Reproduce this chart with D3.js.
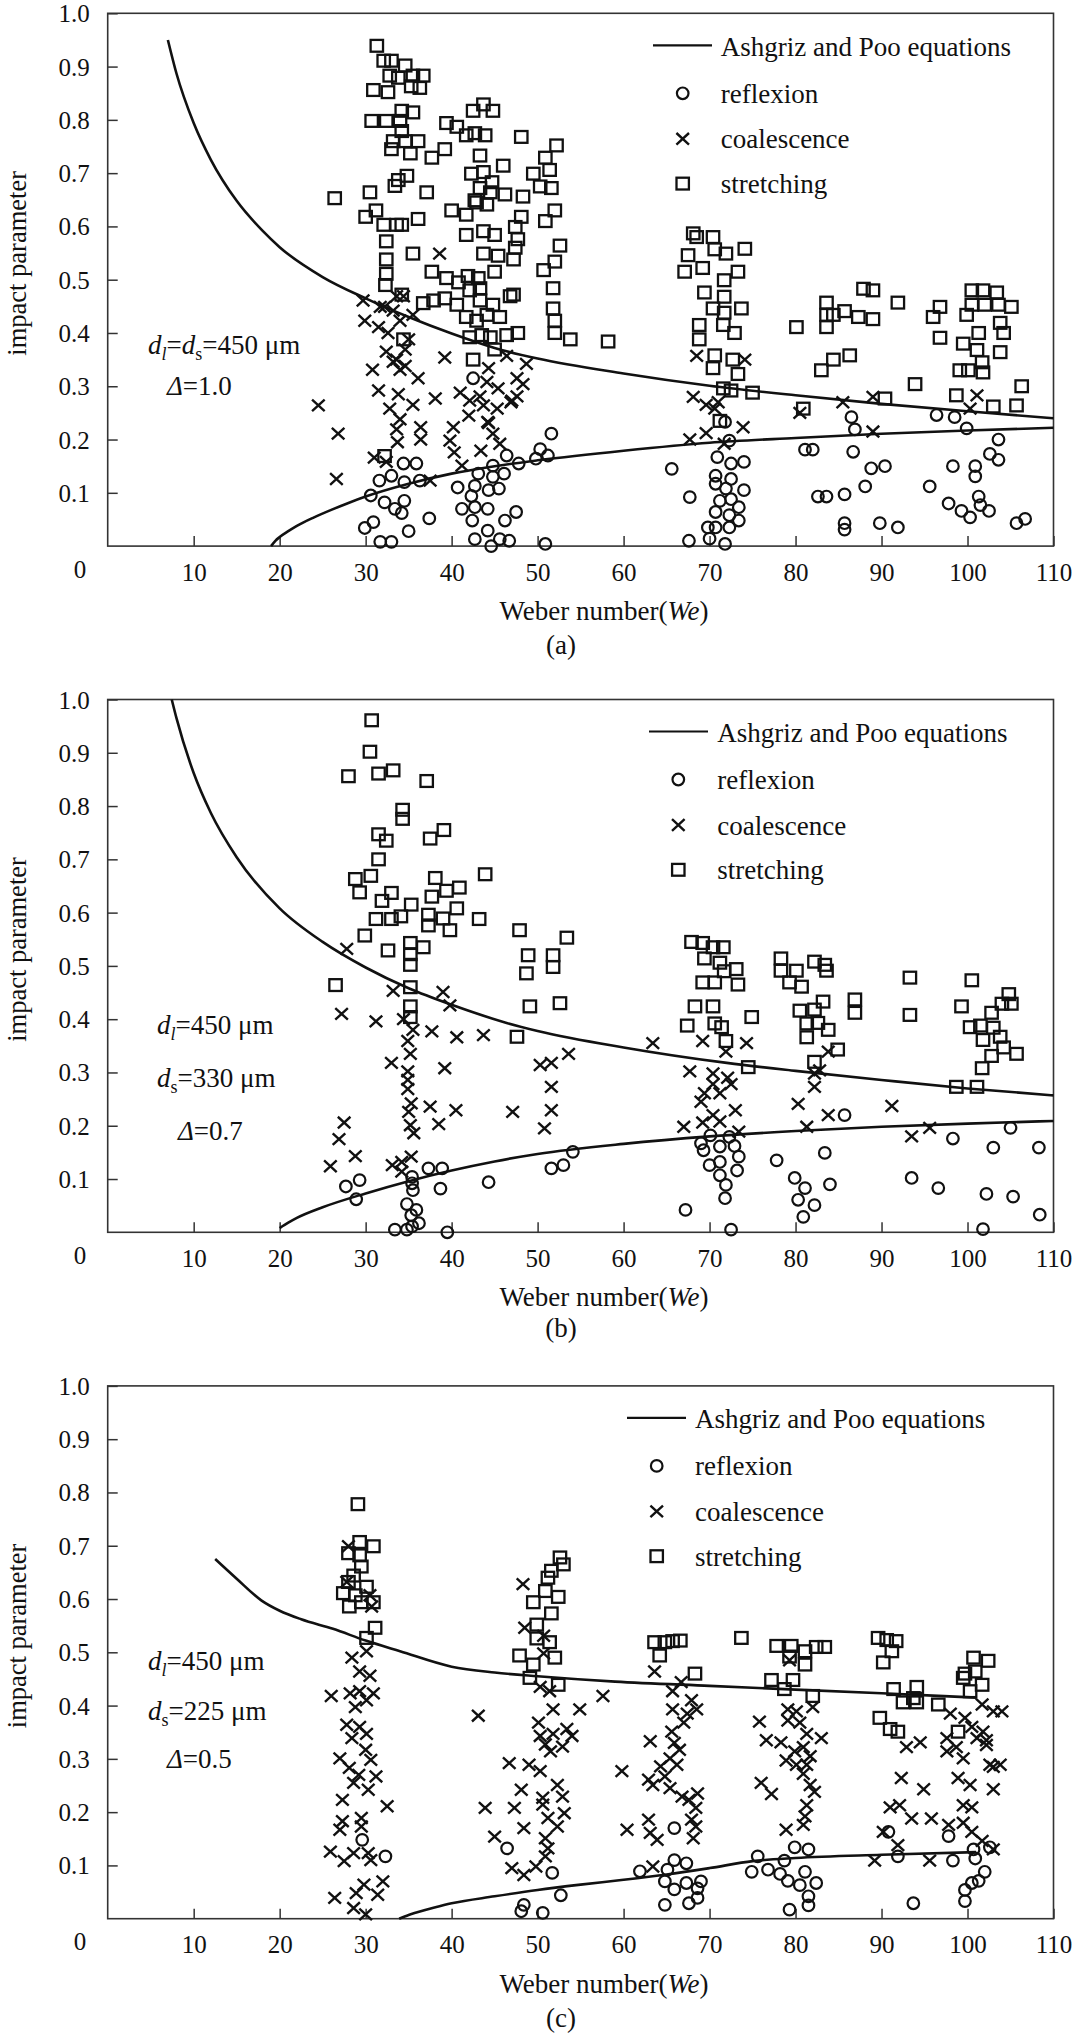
<!DOCTYPE html>
<html><head><meta charset="utf-8">
<script src="https://cdn.jsdelivr.net/npm/d3@7"></script>
<style>
body{margin:0;background:#fff}
svg{display:block}
text{font-family:"Liberation Serif","Times New Roman",serif;fill:#111}
</style></head>
<body><svg id="chart" width="1080" height="2038"></svg>
<script>
// ---------- tick values & labels ----------
const xTickValues = [10,20,30,40,50,60,70,80,90,100,110];
const yTickValues = [0.1,0.2,0.3,0.4,0.5,0.6,0.7,0.8,0.9,1.0];
const legendLabels = ["Ashgriz and Poo equations","reflexion","coalescence","stretching"];
const captions = ["(a)","(b)","(c)"];

// ---------- panel (a) ----------
const upperA = [[7,0.95],[8,0.887],[10,0.794],[12,0.725],[15,0.648],[18,0.592],[20,0.561],[25,0.505],[30,0.465],[35,0.43],[40,0.399],[45,0.372],[50,0.352],[60,0.324],[70,0.301],[80,0.283],[90,0.267],[100,0.253],[110,0.24]];
const lowerA = [[19,0],[19.5,0.01],[20,0.017],[21,0.028],[22,0.038],[24,0.054],[26,0.068],[28,0.081],[30,0.093],[35,0.117],[40,0.136],[45,0.15],[50,0.161],[60,0.179],[70,0.194],[80,0.203],[90,0.211],[100,0.217],[110,0.222]];
const reflexionA = [[31.6,.123],[33.0,.132],[34.4,.155],[35.9,.155],[34.5,.12],[36.3,.123],[30.6,.095],[32.2,.082],[33.4,.07],[34.5,.085],[34.2,.062],[30.9,.045],[29.9,.034],[35.0,.028],[37.4,.052],[31.7,.008],[33.0,.008],
[40.7,.11],[42.3,.094],[42.7,.113],[41.2,.07],[42.7,.073],[42.4,.048],[44.2,.07],[44.2,.029],[42.7,.013],[44.6,.0],[45.6,.013],[46.7,.01],[46.2,.048],[47.5,.064],[44.3,.105],[45.5,.108],[43.1,.136],[44.8,.13],[46.1,.136],[44.8,.151],[46.4,.17],[47.8,.155],[49.8,.164],[50.3,.182],[51.2,.17],[51.6,.211],[50.9,.004],[42.5,.315],
[65.6,.145],[67.7,.092],[67.6,.01],[71.8,.233],[72.3,.198],[70.9,.167],[72.5,.155],[74.0,.158],[70.7,.132],[72.5,.126],[70.7,.117],[71.9,.108],[74.0,.105],[71.2,.085],[72.5,.088],[73.4,.073],[70.7,.064],[72.3,.058],[69.8,.035],[70.7,.035],[72.3,.035],[70.0,.014],[71.8,.004],[73.4,.048],
[86.5,.242],[86.9,.219],[96.4,.246],[98.5,.242],[99.9,.221],[81.1,.181],[82.0,.181],[86.7,.177],[88.8,.146],[90.4,.15],[103.6,.20],[102.6,.173],[103.6,.162],[98.3,.15],[100.9,.15],[100.9,.131],[88.1,.112],[95.6,.112],[82.6,.093],[83.6,.093],[85.7,.097],[97.8,.08],[99.3,.066],[100.3,.054],[101.3,.093],[101.5,.077],[102.5,.066],[85.7,.043],[85.7,.031],[89.8,.043],[91.9,.035],[105.7,.043],[106.7,.051]];
const coalescenceA = [[24.5,.264],[26.8,.211],[26.6,.126],[31.0,.166],[32.4,.158],[29.7,.461],[31.7,.449],[29.9,.423],[31.5,.411],[32.6,.40],[30.8,.331],[33.2,.346],[31.5,.292],[32.8,.258],[33.6,.219],[33.7,.195],
[33.6,.469],[34.4,.469],[32.2,.449],[33.2,.442],[35.5,.434],[34.0,.423],[35.0,.388],[34.6,.369],[32.4,.365],[33.6,.35],[34.6,.338],[34.0,.331],[36.1,.315],[38.6,.549],[39.2,.354],[38.1,.277],[33.8,.285],[35.5,.265],[34.0,.238],[36.4,.223],[36.4,.20],[37.5,.123],
[39.8,.198],[40.2,.223],[40.3,.176],[41.2,.151],[42.0,.245],[43.4,.179],[44.2,.233],[44.8,.211],[45.6,.192],[43.7,.264],[45.3,.258],[46.9,.27],
[41.0,.288],[42.1,.273],[43.3,.281],[44.3,.334],[44.1,.308],[46.4,.357],[47.6,.315],[48.7,.342],[48.3,.304],[47.0,.273],[47.6,.281],[45.4,.296],[44.3,.231],
[68.5,.357],[74.1,.35],[69.6,.265],[71.0,.27],[70.6,.258],[68.1,.28],[67.7,.20],[69.6,.212],[73.9,.223],[71.7,.192],
[80.5,.25],[85.5,.27],[89.0,.28],[89.0,.215],[101.1,.283],[100.3,.258]];
const stretchingA = [[31.3,.939],[32.1,.911],[33.0,.911],[34.6,.902],[32.8,.883],[33.8,.879],[35.5,.883],[36.7,.883],[30.9,.856],[32.6,.852],[35.3,.863],[36.3,.86],[34.2,.817],[35.5,.814],[30.7,.798],[32.4,.798],[34.0,.798],[34.2,.779],[33.0,.745],[33.2,.76],[34.6,.76],[36.1,.76],[37.7,.729],[39.2,.745],[35.2,.737],[39.4,.794],[40.6,.787],[41.7,.771],[42.7,.775],[43.9,.771],[42.5,.817],[43.7,.829],[44.8,.817],[48.1,.768],[43.3,.733],[33.4,.676],[26.4,.653],[30.5,.664],[33.8,.687],[34.8,.695],[37.1,.664],[42.3,.699],[43.7,.702],[44.7,.683],[46.0,.714],[43.3,.672],[44.5,.664],[49.5,.699],[50.9,.729],[52.2,.752],[51.4,.706],[51.6,.672],[42.7,.649],[44.1,.641],[46.2,.66],[48.3,.656],[50.3,.675],[30.0,.618],[31.2,.630],[32.1,.603],[33.6,.603],[34.2,.603],[36.1,.614],[40.0,.63],[41.7,.622],[42.9,.645],[43.7,.591],[45.0,.584],[47.4,.599],[48.1,.618],[50.9,.61],[52.0,.63],[41.7,.584],[47.7,.576],[32.4,.572],[32.4,.538],[35.5,.549],[43.7,.549],[45.4,.545],[47.4,.56],[47.2,.538],[52.6,.564],[52.0,.534],[50.7,.518],[37.7,.515],[39.4,.503],[40.8,.495],[41.9,.507],[43.1,.503],[45.0,.515],[42.1,.48],[43.3,.484],[36.7,.456],[37.9,.461],[39.2,.465],[40.6,.453],[47.2,.472],[51.8,.484],[51.8,.446],[52.0,.423],[53.8,.388],[58.2,.384],[52.0,.40],[32.3,.49],[32.4,.511],[34.2,.472],[41.7,.43],[42.9,.423],[44.1,.434],[45.6,.43],[42.1,.392],[43.5,.396],[44.5,.392],[46.4,.396],[47.7,.40],[43.3,.461],[44.8,.453],[34.4,.388],[42.5,.35],[45.0,.369],[46.8,.469],[32.2,.169],
[68.1,.587],[68.5,.58],[67.5,.546],[67.1,.515],[70.4,.58],[70.6,.557],[71.9,.549],[74.1,.558],[69.2,.522],[71.7,.499],[73.3,.515],[69.4,.476],[71.7,.468],[70.4,.446],[71.7,.438],[73.7,.446],[68.8,.415],[71.6,.415],[72.9,.40],[68.8,.388],[70.6,.358],[72.7,.35],[70.4,.334],[73.3,.323],[71.6,.296],[72.5,.292],[75.0,.288],[71.2,.235],
[80.1,.411],[83.6,.457],[83.6,.434],[83.6,.411],[84.4,.434],[85.7,.441],[87.3,.43],[89.0,.426],[87.9,.483],[89.0,.48],[91.9,.457],[83.0,.33],[84.4,.35],[86.3,.358],[93.9,.304],[80.9,.258],[90.4,.277],[96.0,.43],[96.8,.449],[96.8,.391],[99.9,.434],[100.5,.453],[100.5,.48],[101.8,.48],[103.4,.476],[102.0,.453],[103.6,.453],[105.1,.449],[103.8,.419],[99.5,.38],[101.3,.40],[104.2,.40],[101.1,.368],[103.8,.364],[99.1,.33],[100.1,.33],[101.7,.345],[101.8,.326],[98.7,.283],[103.0,.262],[105.7,.264],[106.3,.30]];

// ---------- panel (b) ----------
const upperB = [[7.45,1.0],[8,0.965],[10,0.862],[12,0.787],[15,0.704],[20,0.608],[25,0.545],[30,0.497],[35,0.458],[40,0.427],[46.4,0.393],[50,0.378],[60,0.347],[72,0.318],[80,0.303],[90,0.286],[100,0.27],[110,0.257]];
const lowerB = [[20,0.008],[21,0.018],[22,0.027],[25,0.047],[30,0.073],[35,0.096],[40,0.116],[45,0.133],[50,0.147],[60,0.166],[70,0.18],[80,0.19],[90,0.198],[100,0.204],[110,0.209]];
const reflexionB = [[27.7,.086],[29.3,.098],[28.9,.062],[33.4,.005],[34.8,.005],[35.4,.011],[36.2,.017],[34.8,.053],[35.3,.032],[35.9,.042],[35.4,.104],[35.4,.092],[35.5,.079],[37.3,.12],[38.9,.12],[38.7,.082],[39.5,.0],[44.3,.094],[51.6,.12],[53.0,.126],[54.1,.151],[67.2,.042],[69.0,.167],[69.3,.154],[70.1,.182],[70.0,.126],[71.2,.161],[71.2,.132],[71.2,.107],[71.9,.089],[71.8,.064],[72.5,.005],[72.9,.162],[73.4,.142],[73.2,.116],[72.3,.179],
[85.7,.22],[77.8,.135],[79.9,.102],[81.1,.083],[80.3,.061],[82.2,.051],[80.9,.029],[83.4,.149],[84.0,.09],[93.5,.102],[96.6,.083],[98.3,.176],[103.0,.159],[105.0,.196],[108.3,.159],[102.2,.072],[105.3,.067],[101.8,.006],[108.4,.033]];
const coalescenceB = [[25.9,.124],[26.9,.175],[27.5,.206],[28.8,.143],[33.1,.126],[34.2,.132],[34.2,.114],[35.3,.142],[35.0,.226],[35.3,.242],[35.2,.201],[35.6,.186],[37.5,.236],[38.5,.203],[40.5,.229],[47.1,.226],[50.8,.195],[51.6,.229],[67.0,.198],[69.2,.206],[70.4,.22],[71.2,.208],[73.0,.229],[69.0,.245],[73.4,.189],
[27.8,.532],[33.2,.453],[27.2,.41],[31.2,.396],[33.0,.318],[39.0,.451],[39.8,.426],[34.4,.40],[35.5,.38],[37.7,.377],[40.6,.366],[43.7,.37],[34.9,.359],[35.2,.335],[34.9,.302],[34.9,.286],[34.9,.269],[39.2,.308],[50.3,.314],[51.6,.318],[53.6,.335],[51.6,.273],[63.4,.355],[67.7,.302],
[69.2,.359],[71.9,.339],[74.3,.355],[70.4,.298],[72.1,.29],[70.4,.278],[69.4,.261],[71.2,.261],[72.5,.278],[83.8,.339],[82.8,.304],[82.2,.298],[82.2,.273],[80.3,.241],[83.8,.22],[81.3,.198],[91.2,.237],[93.5,.18],[95.6,.196]];
const stretchingB = [[30.7,.961],[30.5,.902],[28.0,.856],[31.5,.861],[31.5,.747],[31.5,.70],[28.8,.663],[29.3,.638],[30.6,.669],[31.2,.588],[29.9,.557],[26.5,.464],
[33.2,.867],[37.1,.847],[34.3,.793],[34.3,.776],[32.4,.735],[37.5,.739],[39.1,.755],[43.9,.672],[38.1,.665],[39.4,.641],[40.9,.647],[33.0,.637],[35.3,.615],[37.7,.63],[40.6,.608],[31.9,.622],[34.1,.593],[33.0,.588],[37.3,.596],[39.0,.589],[37.3,.576],[39.8,.567],[43.2,.588],[47.9,.567],[53.4,.553],[35.2,.543],[35.2,.522],[36.7,.535],[32.6,.529],[35.2,.502],[48.9,.52],[48.7,.486],[51.8,.52],[51.8,.498],[35.2,.46],[35.2,.424],[35.2,.404],[49.1,.424],[52.6,.43],[47.6,.367],[67.9,.545],[68.3,.424],[67.4,.388],
[69.2,.543],[70.4,.535],[71.6,.535],[69.4,.514],[71.2,.506],[73.1,.494],[69.2,.469],[70.6,.469],[71.7,.49],[73.3,.465],[70.4,.424],[70.6,.392],[71.4,.385],[71.9,.359],[74.9,.404],[74.5,.31],[78.3,.514],[78.3,.491],[80.1,.491],[79.3,.469],[80.7,.461],[82.2,.508],[83.6,.491],[83.4,.502],[80.5,.416],[82.2,.418],[83.2,.433],[81.3,.392],[82.6,.393],[83.8,.38],[81.3,.366],[86.9,.437],[86.9,.412],[84.9,.343],[82.2,.32],[93.3,.478],[93.3,.408],[100.5,.473],[99.3,.424],[100.3,.385],[101.5,.388],[102.8,.412],[103.0,.384],[104.8,.447],[105.1,.429],[104.0,.429],[101.8,.361],[103.8,.367],[104.2,.347],[102.8,.331],[105.7,.335],[101.7,.308],[98.7,.273],[101.1,.273]];

// ---------- panel (c) ----------
const upperC = [[12.5,0.675],[15,0.638],[17.9,0.597],[20,0.578],[22.5,0.562],[26.2,0.544],[30,0.522],[34,0.502],[40,0.473],[45,0.462],[50,0.455],[59,0.445],[70,0.437],[80,0.43],[90,0.423],[101,0.415]];
const lowerC = [[33.9,0],[35,0.007],[36,0.012],[38,0.021],[40,0.029],[45,0.042],[50,0.054],[55,0.064],[60,0.073],[65,0.083],[70,0.095],[75,0.108],[80,0.114],[90,0.12],[101,0.125]];
const reflexionC = [[29.6,.148],[32.3,.117],[46.45,.132],[51.7,.086],[48.4,.026],[48.1,.014],[50.6,.011],[52.7,.044],[61.9,.089],[65.1,.092],[65.9,.11],[67.3,.104],[64.8,.07],[65.9,.055],[67.3,.067],[64.8,.026],[67.6,.029],[69.0,.07],[68.6,.057],[68.6,.039],[65.9,.17],
[75.6,.117],[74.9,.088],[76.8,.092],[78.2,.084],[78.7,.109],[79.1,.071],[80.5,.063],[79.9,.134],[81.5,.13],[81.1,.088],[82.4,.067],[81.5,.042],[81.5,.025],[79.3,.017],[90.8,.163],[91.9,.117],[93.7,.029],[97.8,.155],[98.3,.109],[100.7,.13],[100.9,.113],[102.6,.134],[102.0,.088],[101.3,.071],[100.5,.067],[99.7,.054],[99.7,.033]];
const coalescenceC = [[28.0,.699],[27.8,.632],[30.5,.607],[30.7,.586],[30.1,.502],[28.4,.49],[29.3,.464],[30.5,.456],[26.0,.418],[28.2,.423],[29.3,.427],[30.9,.423],[28.8,.397],[30.1,.41],[27.8,.364],[29.3,.36],[30.1,.347],[28.4,.339],
[27.0,.301],[28.1,.283],[30.0,.317],[30.6,.298],[29.2,.27],[31.2,.267],[28.6,.255],[30.3,.242],[27.3,.223],[32.5,.211],[29.5,.189],[27.3,.183],[27.0,.167],[29.5,.173],[25.9,.126],[28.6,.123],[27.5,.108],[30.3,.123],[30.6,.11],[32.0,.07],[29.8,.064],[28.9,.048],[26.4,.039],[31.4,.045],[28.6,.02],[30.0,.008],
[43.9,.208],[45.0,.154],[46.7,.292],[47.3,.208],[48.1,.242],[48.4,.17],[47.0,.095],[48.4,.082],[49.0,.289],[50.3,.277],[50.6,.227],[50.6,.214],[51.2,.189],[50.9,.151],[51.2,.132],[50.9,.117],[49.8,.098],[50.9,.327],[51.5,.314],[52.9,.323],[52.3,.251],[52.9,.229],[53.1,.198],[52.3,.173],
[59.8,.277],[60.4,.167],[63.1,.333],[62.9,.261],[63.4,.251],[64.3,.286],[64.8,.267],[65.4,.245],[65.4,.301],[65.9,.33],[66.2,.289],[66.5,.317],[62.9,.186],[63.1,.161],[63.9,.148],[63.4,.098],[67.6,.223],[68.4,.208],[68.6,.235],[67.9,.186],[68.1,.151],[68.4,.173],[66.8,.229],
[48.3,.628],[48.5,.546],[50.7,.531],[50.7,.498],[50.3,.435],[51.4,.427],[51.8,.393],[54.9,.393],[57.6,.418],[43.1,.381],[50.1,.368],[50.3,.343],[51.8,.347],[53.4,.356],[54.0,.343],[63.6,.464],[66.7,.444],[65.7,.427],[67.9,.41],[65.7,.393],[67.4,.385],[68.5,.393],[67.0,.368],[65.6,.351],
[79.3,.485],[79.1,.393],[80.1,.389],[82.0,.397],[79.1,.372],[80.5,.368],[75.8,.37],[81.3,.347],[83.0,.339],[76.6,.335],[78.3,.331],[98.0,.385],[99.7,.377],[101.7,.402],[103.0,.389],[104.0,.389],[101.8,.351],[100.5,.36],[102.2,.335],[101.1,.339],[97.6,.339],[92.9,.322],[94.5,.331],[79.9,.314],[80.9,.322],[81.7,.305],[78.9,.297],[80.1,.289],[81.3,.289],[80.9,.272],[81.7,.251],[82.2,.238],[81.3,.213],[81.1,.192],[80.9,.176],[78.9,.167],[76.0,.255],[77.2,.234],[92.3,.264],[94.9,.243],[92.1,.213],[91.0,.209],[93.5,.188],[95.8,.188],[90.2,.163],[89.2,.109],[91.9,.138],[95.6,.109],[97.6,.314],[98.7,.322],[99.5,.301],[102.2,.326],[98.9,.264],[100.3,.251],[103.0,.285],[103.0,.243],[102.6,.289],[103.8,.289],[99.5,.213],[100.5,.209],[97.8,.176],[99.5,.18],[100.5,.163],[101.7,.146],[103.0,.13]];
const stretchingC = [[29.1,.778],[29.3,.707],[30.9,.699],[28.0,.686],[29.3,.682],[29.5,.661],[28.6,.644],[28.0,.632],[30.1,.623],[27.4,.611],[28.8,.607],[29.5,.594],[28.1,.586],[30.9,.594],[31.1,.546],[30.1,.527],
[52.6,.678],[53.0,.665],[51.6,.653],[51.2,.64],[50.9,.615],[52.4,.604],[49.5,.594],[51.6,.573],[49.9,.552],[49.9,.526],[51.4,.519],[47.9,.494],[49.5,.477],[52.0,.49],[49.1,.452],[52.4,.439],[63.6,.519],[64.8,.519],[65.7,.521],[66.6,.522],[64.2,.494],[68.3,.46],
[73.7,.527],[77.8,.512],[79.5,.512],[81.1,.502],[82.4,.51],[83.4,.51],[79.3,.492],[81.1,.477],[77.2,.448],[79.7,.448],[78.7,.431],[82.0,.418],[89.6,.527],[90.6,.523],[91.7,.521],[91.2,.502],[90.2,.481],[91.4,.431],[92.5,.406],[93.7,.414],[94.1,.435],[94.1,.406],[96.6,.402],[89.8,.377],[91.0,.356],[91.9,.351],[99.7,.46],[100.7,.49],[102.4,.484],[100.9,.464],[99.5,.452],[101.7,.439],[100.3,.427],[98.9,.351]];

// ---------- annotation texts ----------
const notesA = [
  [{t:"d",i:1},{t:"l",i:1,s:1},{t:"=",},{t:"d",i:1},{t:"s",s:1},{t:"=450 μm"}],
  [{t:"Δ",i:1},{t:"=1.0"}]
];
const notesB = [
  [{t:"d",i:1},{t:"l",i:1,s:1},{t:"=450 μm"}],
  [{t:"d",i:1},{t:"s",s:1},{t:"=330 μm"}],
  [{t:"Δ",i:1},{t:"=0.7"}]
];
const notesC = [
  [{t:"d",i:1},{t:"l",i:1,s:1},{t:"=450 μm"}],
  [{t:"d",i:1},{t:"s",s:1},{t:"=225 μm"}],
  [{t:"Δ",i:1},{t:"=0.5"}]
];

// ---------- layout ----------
const X0 = 107.7, X1 = 1053.5, PH = 532.8;
const panels = [
  {top:13.3, upper:upperA, lower:lowerA, refl:reflexionA, coal:coalescenceA, str:stretchingA, cap:captions[0], capDy:108,
   leg:{l0:653,l1:712,sx:682.7,tx:720.7}, notes:notesA, noteX:[148,167], noteY:[341,382]},
  {top:699.5, upper:upperB, lower:lowerB, refl:reflexionB, coal:coalescenceB, str:stretchingB, cap:captions[1], capDy:104.5,
   leg:{l0:649,l1:708,sx:678.3,tx:717.3}, notes:notesB, noteX:[157,157,178], noteY:[334.5,387,440.5]},
  {top:1385.9, upper:upperC, lower:lowerC, refl:reflexionC, coal:coalescenceC, str:stretchingC, cap:captions[2], capDy:108,
   leg:{l0:627,l1:686,sx:656.7,tx:695}, notes:notesC, noteX:[148,148,167], noteY:[283.8,334,382.3]}
];

const svg = d3.select("#chart");
const INK = "#111";
const CROSS = "M-6.3,-5.8L6.3,5.8M-6.3,5.8L6.3,-5.8";
const SQW = 12.4, SQH = 11.8, CR = 5.8;

function drawPanel(p){
  const g = svg.append("g");
  const bottom = p.top + PH;
  const x = d3.scaleLinear().domain([0,110]).range([X0,X1]);
  const y = d3.scaleLinear().domain([0,1]).range([bottom,p.top]);

  // frame
  g.append("rect").attr("x",X0).attr("y",p.top).attr("width",X1-X0).attr("height",PH)
    .attr("fill","none").attr("stroke","#333").attr("stroke-width",1.6);

  // x axis
  const xa = g.append("g").attr("transform",`translate(0,${bottom})`)
    .call(d3.axisBottom(x).tickValues(xTickValues).tickSize(-10).tickPadding(17).tickFormat(d3.format("d")));
  xa.select(".domain").remove();
  xa.selectAll("line").attr("stroke","#333").attr("stroke-width",1.5);
  xa.selectAll("text").attr("font-size",25).attr("fill",INK).attr("font-family","Liberation Serif");
  // y axis
  const ya = g.append("g").attr("transform",`translate(${X0},0)`)
    .call(d3.axisLeft(y).tickValues(yTickValues).tickSize(-10).tickPadding(18).tickFormat(d3.format(".1f")));
  ya.select(".domain").remove();
  ya.selectAll("line").attr("stroke","#333").attr("stroke-width",1.5);
  ya.selectAll("text").attr("font-size",25).attr("fill",INK).attr("font-family","Liberation Serif").attr("dy","0.34em");
  // origin label
  g.append("text").attr("x",80).attr("y",bottom+31.5).attr("text-anchor","middle").attr("font-size",25).text("0");

  // axis titles
  const xt = g.append("text").attr("x",604).attr("y",bottom+74).attr("text-anchor","middle").attr("font-size",27);
  xt.append("tspan").text("Weber number(");
  xt.append("tspan").attr("font-style","italic").text("We");
  xt.append("tspan").text(")");
  g.append("text").attr("transform",`translate(26,${p.top+250}) rotate(-90)`).attr("text-anchor","middle")
    .attr("font-size",26.5).text("impact parameter");
  g.append("text").attr("x",561).attr("y",bottom+p.capDy).attr("text-anchor","middle").attr("font-size",27).text(p.cap);

  // curves
  const line = d3.line().x(d=>x(d[0])).y(d=>y(d[1])).curve(d3.curveMonotoneX);
  [p.upper,p.lower].forEach(c=>{
    g.append("path").attr("d",line(c)).attr("fill","none").attr("stroke",INK).attr("stroke-width",2.6);
  });

  // markers
  const mk = g.append("g").attr("fill","none").attr("stroke",INK);
  mk.selectAll(".c").data(p.refl).join("circle").attr("cx",d=>x(d[0])).attr("cy",d=>y(d[1]))
    .attr("r",CR).attr("stroke-width",2.2);
  mk.selectAll(".x").data(p.coal).join("path")
    .attr("transform",d=>`translate(${x(d[0])},${y(d[1])})`)
    .attr("d",CROSS).attr("stroke-width",2.4);
  mk.selectAll(".s").data(p.str).join("rect")
    .attr("x",d=>x(d[0])-SQW/2).attr("y",d=>y(d[1])-SQH/2).attr("width",SQW).attr("height",SQH).attr("stroke-width",2.3);

  // legend
  const L = p.leg, rows = [32, 80, 125.5, 170.3];
  g.append("line").attr("x1",L.l0).attr("x2",L.l1).attr("y1",p.top+rows[0]).attr("y2",p.top+rows[0])
    .attr("stroke",INK).attr("stroke-width",2.2);
  g.append("circle").attr("cx",L.sx).attr("cy",p.top+rows[1]).attr("r",CR).attr("fill","none").attr("stroke",INK).attr("stroke-width",2.2);
  g.append("path").attr("transform",`translate(${L.sx},${p.top+rows[2]})`).attr("d",CROSS)
    .attr("fill","none").attr("stroke",INK).attr("stroke-width",2.4);
  g.append("rect").attr("x",L.sx-SQW/2).attr("y",p.top+rows[3]-SQH/2).attr("width",SQW).attr("height",SQH)
    .attr("fill","none").attr("stroke",INK).attr("stroke-width",2.3);
  legendLabels.forEach((t,i)=>{
    g.append("text").attr("x",L.tx).attr("y",p.top+rows[i]+(i===0?10.5:9.5)).attr("font-size",27).text(t);
  });

  // notes
  p.notes.forEach((segs,i)=>{
    const t = g.append("text").attr("x",p.noteX[i]).attr("y",p.top+p.noteY[i]).attr("font-size",27);
    let shifted = false;
    segs.forEach(s=>{
      const sp = t.append("tspan").text(s.t);
      if (s.i) sp.attr("font-style","italic");
      if (s.s) { sp.attr("font-size",18).attr("dy",6); shifted = true; }
      else if (shifted) { sp.attr("dy",-6); shifted = false; }
    });
  });
}

panels.forEach(drawPanel);
</script>
</body></html>
